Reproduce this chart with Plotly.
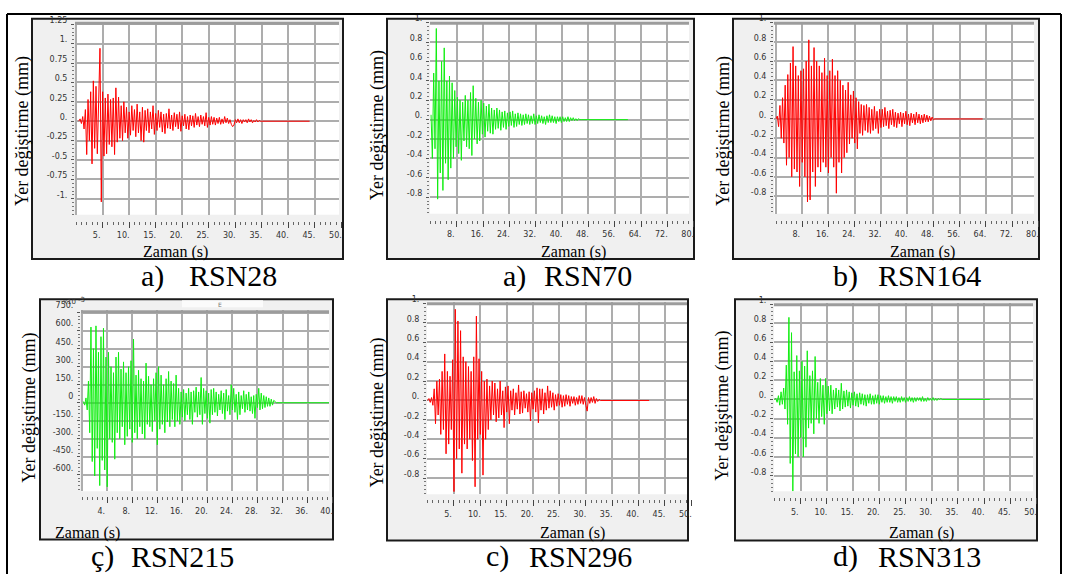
import numpy as np
import plotly.graph_objects as go

# ---------------- data ----------------
# RSN28  (mm), sampled from t0 with step dt, flat zero tail up to END
RSN28_T0, RSN28_DT, RSN28_END = 0.5, 0.25, 44.0
RSN28 = [0.00, 0.03, -0.03, 0.06, -0.10, 0.15, -0.43, 0.28, -0.25, 0.38, -0.55, 0.52, -0.35, 0.45,
         -0.42, 0.40, 0.94, -1.04, 0.38, -0.45, 0.30, -0.42, 0.35, -0.30, 0.28, -0.33, 0.30, -0.43,
         0.43, -0.27, 0.31, -0.22, 0.20, -0.25, 0.25, -0.15, 0.18, -0.22, 0.12, -0.18, 0.20, -0.12,
         0.15, -0.20, 0.22, -0.15, 0.12, -0.25, 0.18, -0.27, 0.14, -0.12, 0.16, -0.15, 0.12, -0.10,
         0.20, -0.17, 0.10, -0.12, 0.14, -0.08, 0.12, -0.14, 0.09, -0.16, 0.10, -0.09, 0.16, -0.10,
         0.08, -0.12, 0.11, -0.07, 0.09, -0.10, 0.12, -0.13, 0.07, -0.06, 0.09, -0.10, 0.06, -0.11,
         0.08, -0.06, 0.07, -0.08, 0.10, -0.05, 0.06, -0.07, 0.08, -0.04, 0.06, -0.06, 0.11, -0.08,
         0.05, -0.05, 0.06, -0.04, 0.05, -0.05, 0.04, -0.03, 0.05, -0.04, 0.03, -0.03, 0.06, -0.02,
         0.04, -0.03, 0.02, -0.04, -0.07, -0.05, 0.02, -0.02, 0.03, -0.02, 0.02, -0.03, 0.02, -0.01,
         0.02, -0.02, 0.03, -0.01, 0.02, -0.02, 0.01, -0.01, 0.02, -0.01, 0.01, 0.00, 0.00]

RSN70_T0, RSN70_DT, RSN70_END = 0.2, 0.4, 60.0
RSN70 = [0.05, -0.40, 0.48, -0.30, 0.94, -0.82, 0.40, -0.55, 0.60, -0.73, 0.74, -0.45, 0.40, -0.62,
         0.45, -0.50, 0.38, -0.40, 0.30, -0.28, 0.23, -0.35, 0.20, -0.42, 0.18, -0.22, 0.25, -0.28,
         0.20, -0.30, 0.28, -0.37, 0.35, -0.20, 0.22, -0.25, 0.18, -0.22, 0.20, -0.15, 0.17, -0.18,
         0.14, -0.12, 0.16, -0.14, 0.12, -0.15, 0.10, -0.10, 0.12, -0.09, 0.10, -0.11, 0.08, -0.08,
         0.09, -0.10, 0.07, -0.07, 0.08, -0.06, 0.09, -0.08, 0.06, -0.07, 0.07, -0.05, 0.06, -0.06,
         0.05, -0.05, 0.06, -0.04, 0.05, -0.05, 0.04, -0.04, 0.06, -0.05, 0.04, -0.04, 0.05, -0.03,
         0.04, -0.04, 0.03, -0.05, 0.04, -0.03, 0.05, -0.03, 0.04, -0.03, 0.03, -0.04, 0.03, -0.02,
         0.03, -0.03, 0.03, -0.02, 0.02, -0.02, 0.03, -0.02, 0.02, -0.01, 0.02, -0.01, 0.01, -0.01,
         0.01, 0.00, 0.00]

RSN164_T0, RSN164_DT, RSN164_END = 0.0, 0.4, 63.0
RSN164 = [0.00, 0.03, -0.08, 0.14, -0.20, 0.22, -0.25, 0.35, -0.48, 0.46, -0.40, 0.58, -0.60, 0.75,
          -0.52, 0.55, -0.55, 0.45, -0.70, 0.50, -0.45, 0.52, -0.60, 0.60, -0.86, 0.82, -0.84, 0.55,
          -0.55, 0.74, -0.70, 0.60, -0.50, 0.55, -0.55, 0.48, -0.45, 0.63, -0.50, 0.45, -0.56, 0.50,
          -0.40, 0.62, -0.50, 0.45, -0.77, 0.50, -0.45, 0.40, -0.56, 0.35, -0.40, 0.30, -0.35, 0.38,
          -0.26, 0.25, -0.20, 0.29, -0.25, 0.22, -0.31, 0.18, -0.15, 0.15, -0.17, 0.14, -0.12, 0.15,
          -0.14, 0.12, -0.15, 0.10, -0.12, 0.13, -0.10, 0.08, -0.15, 0.10, -0.09, 0.10, -0.08, 0.12,
          -0.07, 0.08, -0.10, 0.09, -0.06, 0.10, -0.08, 0.07, -0.09, 0.06, -0.05, 0.07, -0.08, 0.06,
          -0.05, 0.08, -0.06, 0.05, -0.07, 0.06, -0.04, 0.05, -0.06, 0.07, -0.04, 0.05, -0.05, 0.04,
          -0.04, 0.05, -0.03, 0.04, -0.03, 0.03, -0.02, 0.02, -0.01, 0.00]

# RSN215 in units of 1e-3 mm (axis labelled x10^-3)
RSN215_T0, RSN215_DT, RSN215_END = 0.2, 0.2, 39.6
RSN215 = [10, -20, 40, -60, 180, -250, 630, -490, 450, -610, 640, -380, 420, -690, 550, -480, 620,
          -560, 380, -700, 420, -300, 300, -330, 250, -470, 380, -250, 420, -300, 280, -200, 340,
          -350, 250, -280, 300, -220, 350, -330, 530, -250, 230, -300, 270, -200, 200, -260, 180,
          -300, 330, -180, 220, -200, 150, -240, 200, -150, 250, -350, 300, -220, 230, -180, 150,
          -250, 200, -160, 260, -200, 180, -140, 160, -200, 230, -150, 120, -180, 90, -120, 110,
          -150, 80, -100, 120, -140, 90, -180, 100, -80, 130, -120, 90, -100, 210, -180, 120, -90,
          100, -130, 80, -170, 110, -100, 120, -80, 90, -110, 70, -60, 100, -90, 80, -140, 110, -70,
          60, -100, 150, -60, 120, -80, 70, -140, 90, -100, 60, -50, 100, -80, 70, -60, 90, -70, 50,
          -90, 60, -130, 70, -40, 120, -60, 80, -50, 60, -40, 50, -30, 40, -30, 30, -20, 20, 10, 0]

RSN296_T0, RSN296_DT, RSN296_END = 0.0, 0.25, 42.0
RSN296 = [0.00, 0.02, -0.02, 0.03, -0.05, 0.12, -0.24, 0.20, -0.15, 0.22, -0.35, 0.30, -0.30, 0.48,
          -0.55, 0.30, -0.45, 0.25, -0.30, 0.42, -0.94, 0.94, -0.60, 0.82, -0.50, 0.72, -0.75, 0.45,
          -0.45, 0.40, -0.50, 0.35, -0.40, 0.30, -0.62, 0.45, -0.89, 0.87, -0.40, 0.43, -0.35, 0.30,
          -0.77, 0.20, -0.40, 0.22, -0.30, 0.15, -0.20, 0.20, -0.15, 0.18, -0.22, 0.12, -0.18, 0.20,
          -0.15, 0.10, -0.28, 0.14, -0.12, 0.15, -0.24, 0.10, -0.10, 0.12, -0.15, 0.08, -0.09, 0.16,
          -0.14, 0.09, -0.13, 0.10, -0.08, 0.07, -0.12, 0.09, -0.21, 0.08, -0.09, 0.10, -0.12, 0.13,
          -0.23, 0.12, -0.10, 0.12, -0.14, 0.08, -0.10, 0.15, -0.08, 0.10, -0.07, 0.08, -0.10, 0.06,
          -0.06, 0.07, -0.05, 0.06, -0.07, 0.05, -0.06, 0.06, -0.04, 0.05, -0.06, 0.04, -0.03, 0.04,
          -0.05, 0.03, -0.04, 0.05, -0.03, 0.05, -0.04, 0.03, -0.05, -0.11, 0.03, -0.03, 0.03, -0.02,
          0.04, -0.03, 0.02, -0.01, 0.01, 0.00]

RSN313_T0, RSN313_DT, RSN313_END = 0.0, 0.25, 41.1
RSN313 = [0.00, 0.01, -0.03, 0.04, -0.06, 0.08, -0.05, 0.12, -0.10, 0.36, -0.26, 0.86, -0.67, 0.70,
          -0.96, 0.29, -0.57, 0.46, -0.60, 0.30, -0.40, 0.40, -0.60, 0.35, -0.50, 0.51, -0.30, 0.25,
          -0.25, 0.30, -0.36, 0.45, -0.20, 0.18, -0.25, 0.22, -0.18, 0.15, -0.26, 0.22, -0.15, 0.14,
          -0.12, 0.15, -0.15, 0.10, -0.10, 0.12, -0.08, 0.10, -0.12, 0.17, -0.10, 0.09, -0.08, 0.10,
          -0.07, 0.08, -0.09, 0.07, -0.06, 0.08, -0.07, 0.06, -0.08, 0.07, -0.05, 0.06, -0.06, 0.05,
          -0.07, 0.05, -0.04, 0.06, -0.05, 0.04, -0.05, 0.05, -0.04, 0.05, -0.05, 0.04, -0.03, 0.04,
          -0.04, 0.03, -0.03, 0.04, -0.03, 0.03, -0.04, 0.03, -0.02, 0.03, -0.03, 0.02, -0.03, 0.03,
          -0.02, 0.02, -0.03, 0.02, -0.02, 0.03, -0.02, 0.02, -0.03, 0.02, -0.02, 0.02, -0.01, 0.02,
          -0.02, 0.03, -0.02, 0.01, -0.02, 0.02, -0.01, 0.01, -0.01, 0.02, -0.01, 0.01, -0.01, 0.01,
          0.00, 0.01, 0.00]

# tick labels
X_TICKS_50 = [5, 10, 15, 20, 25, 30, 35, 40, 45, 50]
X_TEXT_50 = ["5.", "10.", "15.", "20.", "25.", "30.", "35.", "40.", "45.", "50."]
X_TICKS_80 = [8, 16, 24, 32, 40, 48, 56, 64, 72, 80]
X_TEXT_80 = ["8.", "16.", "24.", "32.", "40.", "48.", "56.", "64.", "72.", "80."]
X_TICKS_40 = [4, 8, 12, 16, 20, 24, 28, 32, 36, 40]
X_TEXT_40 = ["4.", "8.", "12.", "16.", "20.", "24.", "28.", "32.", "36.", "40."]
Y_TICKS_125 = [-1, -0.75, -0.5, -0.25, 0, 0.25, 0.5, 0.75, 1, 1.25]
Y_TEXT_125 = ["-1.", "-0.75", "-0.5", "-0.25", "0.", "0.25", "0.5", "0.75", "1.", "1.25"]
Y_TICKS_1 = [-0.8, -0.6, -0.4, -0.2, 0, 0.2, 0.4, 0.6, 0.8, 1]
Y_TEXT_1 = ["-0.8", "-0.6", "-0.4", "-0.2", "0.", "0.2", "0.4", "0.6", "0.8", "1."]
Y_TICKS_750 = [-600, -450, -300, -150, 0, 150, 300, 450, 600, 750]
Y_TEXT_750 = ["-600.", "-450.", "-300.", "-150.", "0", "150.", "300.", "450.", "600.", "750."]

LETTERS = ["a)", "a)", "b)", "ç)", "c)", "d)"]
NAMES = ["RSN28", "RSN70", "RSN164", "RSN215", "RSN296", "RSN313"]
Y_TITLE = "Yer değiştirme (mm)"
X_TITLE = "Zaman (s)"

# ---------------- layout geometry (pixels) ----------------
W, H = 1066, 574
RED, GREEN = "#ff0000", "#12ee12"

panels = [
    dict(vals=RSN28, t0=RSN28_T0, dt=RSN28_DT, end=RSN28_END, color=RED,
         box=(32, 10, 343, 254), plot=(75, 13, 339, 209), x0=76.1, xs=5.306, y0=114.0, ys=78.8,
         xt=(X_TICKS_50, X_TEXT_50, 1.0), yt=(Y_TICKS_125, Y_TEXT_125, 0.05), dgrid=5, trow=214,
         yshift=-4, ylab=(22, 124), xlab=(175, 247), cap=(139, 187, 271)),
    dict(vals=RSN70, t0=RSN70_T0, dt=RSN70_DT, end=RSN70_END, color=GREEN,
         box=(387, 10, 694, 254), plot=(430, 13, 689, 208), x0=430.4, xs=3.291, y0=112.4, ys=98.5,
         xt=(X_TICKS_80, X_TEXT_80, 1.6), yt=(Y_TICKS_1, Y_TEXT_1, 0.04), dgrid=8, trow=213,
         yshift=-4, ylab=(377, 118), xlab=(573, 247), cap=(501, 542, 271)),
    dict(vals=RSN164, t0=RSN164_T0, dt=RSN164_DT, end=RSN164_END, color=RED,
         box=(733, 10, 1039, 254), plot=(774, 13, 1034, 208), x0=776.0, xs=3.28, y0=111.7, ys=98.0,
         xt=(X_TICKS_80, X_TEXT_80, 1.6), yt=(Y_TICKS_1, Y_TEXT_1, 0.04), dgrid=8, trow=213,
         yshift=-4, ylab=(723, 124), xlab=(922, 247), cap=(831, 876, 271)),
    dict(vals=RSN215, t0=RSN215_T0, dt=RSN215_DT, end=RSN215_END, color=GREEN,
         box=(40, 295, 333, 539), plot=(81, 306, 329, 490), x0=82.2, xs=6.26, y0=400.0, ys=0.122,
         xt=(X_TICKS_40, X_TEXT_40, 0.8), yt=(Y_TICKS_750, Y_TEXT_750, 30), dgrid=4, trow=494,
         yshift=-7, ylab=(30, 405), xlab=(87, 532), cap=(89, 129, 556)),
    dict(vals=RSN296, t0=RSN296_T0, dt=RSN296_DT, end=RSN296_END, color=RED,
         box=(387, 295, 688, 540), plot=(427, 298, 687, 493), x0=427.6, xs=5.275, y0=397.7, ys=98.5,
         xt=(X_TICKS_50, X_TEXT_50, 1.0), yt=(Y_TICKS_1, Y_TEXT_1, 0.04), dgrid=5, trow=497,
         yshift=-4, ylab=(378, 410), xlab=(572, 532), cap=(484, 527, 556)),
    dict(vals=RSN313, t0=RSN313_T0, dt=RSN313_DT, end=RSN313_END, color=GREEN,
         box=(735, 295, 1037, 540), plot=(774, 299, 1033, 490), x0=774.5, xs=5.24, y0=396.7, ys=97.0,
         xt=(X_TICKS_50, X_TEXT_50, 1.0), yt=(Y_TICKS_1, Y_TEXT_1, 0.04), dgrid=5, trow=495,
         yshift=-4, ylab=(723, 403), xlab=(921, 532), cap=(831, 876, 556)),
]


def fx(px):
    return px / W


def fy(py):
    return 1 - py / H


TICK_FONT = dict(family="DejaVu Sans", size=8, color="#333333")
SERIF = "Liberation Serif, Times New Roman, Times, serif"

fig = go.Figure()
layout = dict(width=W, height=H, margin=dict(l=0, r=0, t=0, b=0), showlegend=False,
              paper_bgcolor="white", plot_bgcolor="rgba(0,0,0,0)")
shapes, annotations = [], []

for i, p in enumerate(panels):
    n = i + 1
    m = i + 7
    bx0, by0, bx1, by1 = p["box"]
    px0, py0, px1, py1 = p["plot"]

    # waveform
    t = list(p["t0"] + p["dt"] * np.arange(len(p["vals"])))
    xs_data = t + [p["end"]]
    ys_data = list(p["vals"]) + [0.0]
    fig.add_trace(go.Scatter(x=xs_data, y=ys_data, mode="lines",
                             line=dict(color=p["color"], width=1),
                             xaxis=f"x{n}", yaxis=f"y{n}", hoverinfo="skip"))
    # empty trace to create tick-row subplot
    fig.add_trace(go.Scatter(x=[], y=[], xaxis=f"x{m}", yaxis=f"y{m}", hoverinfo="skip"))

    xr = [(px0 - p["x0"]) / p["xs"], (px1 - p["x0"]) / p["xs"]]
    yr = [(p["y0"] - py1) / p["ys"], (p["y0"] - py0) / p["ys"]]
    last_tick = p["xt"][0][-1]
    tick_right_px = max(bx1 - 1, p["x0"] + (last_tick + 0.05 * p["dgrid"] / 5) * p["xs"])
    xr_t = [xr[0], (tick_right_px - p["x0"]) / p["xs"]]

    layout[f"xaxis{n}"] = dict(domain=[fx(px0), fx(px1)], range=xr, anchor=f"y{n}",
                               showgrid=True, gridcolor="#adadad", gridwidth=1.6,
                               tickmode="linear", tick0=0, dtick=p["dgrid"],
                               showticklabels=False, ticks="", zeroline=False, showline=False,
                               fixedrange=True)
    layout[f"yaxis{n}"] = dict(domain=[fy(py1), fy(py0)], range=yr, anchor=f"x{n}",
                               showgrid=True, gridcolor="#adadad", gridwidth=1.6,
                               tickmode="array", tickvals=p["yt"][0], ticktext=p["yt"][1],
                               ticks="outside", ticklen=3, tickcolor="#555555", tickwidth=1,
                               minor=dict(ticks="outside", ticklen=2, tickcolor="#777777",
                                          tickmode="linear", tick0=0, dtick=p["yt"][2], showgrid=False),
                               ticklabelshift=p["yshift"], ticklabelstandoff=2,
                               tickfont=TICK_FONT, zeroline=False, showline=False, fixedrange=True)
    # tick row axis
    layout[f"xaxis{m}"] = dict(domain=[fx(px0), fx(tick_right_px)], range=xr_t, anchor=f"y{m}",
                               showgrid=False, zeroline=False, showline=False,
                               tickmode="array", tickvals=p["xt"][0], ticktext=p["xt"][1],
                               ticks="outside", ticklen=6, tickcolor="#444444", tickwidth=1,
                               minor=dict(ticks="outside", ticklen=3, tickcolor="#666666",
                                          tickmode="linear", tick0=0, dtick=p["xt"][2], showgrid=False),
                               ticklabelshift=-6, ticklabelstandoff=1,
                               tickfont=TICK_FONT, fixedrange=True)
    layout[f"yaxis{m}"] = dict(domain=[fy(p["trow"] + 1), fy(p["trow"])], range=[0, 1],
                               anchor=f"x{m}", visible=False, fixedrange=True)

    # panel box and plot area
    shapes.append(dict(type="rect", xref="paper", yref="paper", x0=fx(bx0), x1=fx(bx1),
                       y0=fy(by1), y1=fy(by0), fillcolor="#f0f0f0",
                       line=dict(color="#1a1a1a", width=2), layer="below"))
    shapes.append(dict(type="rect", xref="paper", yref="paper", x0=fx(px0), x1=fx(px1),
                       y0=fy(py1), y1=fy(py0), fillcolor="white", line=dict(width=0), layer="below"))
    shapes.append(dict(type="line", xref="paper", yref="paper", x0=fx(px0), x1=fx(px1),
                       y0=fy(py0 + 1.5), y1=fy(py0 + 1.5), line=dict(color="#9c9c9c", width=3),
                       layer="above"))

    # texts
    annotations.append(dict(text=Y_TITLE, x=fx(p["ylab"][0]), y=fy(p["ylab"][1]), xref="paper",
                            yref="paper", showarrow=False, textangle=-90, xanchor="center",
                            yanchor="middle", font=dict(family=SERIF, size=18, color="black")))
    annotations.append(dict(text=X_TITLE, x=fx(p["xlab"][0]), y=fy(p["xlab"][1]), xref="paper",
                            yref="paper", showarrow=False, xanchor="center", yanchor="middle",
                            font=dict(family=SERIF, size=16, color="black")))
    annotations.append(dict(text=LETTERS[i], x=fx(p["cap"][0]), y=fy(p["cap"][2]), xref="paper",
                            yref="paper", showarrow=False, xanchor="left", yanchor="middle",
                            font=dict(family=SERIF, size=30, color="black")))
    annotations.append(dict(text=NAMES[i], x=fx(p["cap"][1]), y=fy(p["cap"][2]), xref="paper",
                            yref="paper", showarrow=False, xanchor="left", yanchor="middle",
                            font=dict(family=SERIF, size=30, color="black")))

# extra marks on the RSN215 panel
shapes.append(dict(type="rect", xref="paper", yref="paper", x0=fx(182), x1=fx(263),
                   y0=fy(303), y1=fy(296), fillcolor="#fbfbfb", line=dict(width=0), layer="below"))
annotations.append(dict(text="x10", x=fx(62), y=fy(298), xref="paper", yref="paper",
                        showarrow=False, borderpad=0,
                        font=dict(family="DejaVu Sans", size=7, color="#333333")))
annotations.append(dict(text="-3", x=fx(77), y=fy(295.5), xref="paper", yref="paper",
                        showarrow=False, borderpad=0,
                        font=dict(family="DejaVu Sans", size=7, color="#333333")))
annotations.append(dict(text="E", x=fx(217), y=fy(300), xref="paper", yref="paper",
                        showarrow=False, borderpad=0,
                        font=dict(family="DejaVu Sans", size=6, color="#777777")))

# outer frame
for (a, b, c, d) in [(7, 5, 7, 574), (7, 5, 1061, 5), (1061, 5, 1061, 574)]:
    shapes.append(dict(type="line", xref="paper", yref="paper", x0=fx(a), y0=fy(b), x1=fx(c),
                       y1=fy(d), line=dict(color="black", width=2), layer="above"))

layout["shapes"] = shapes
layout["annotations"] = annotations
fig.update_layout(**layout)
fig.write_html("out.html", config={"displayModeBar": False},
               post_script="document.body.style.margin='0px';document.body.style.overflow='hidden';")
